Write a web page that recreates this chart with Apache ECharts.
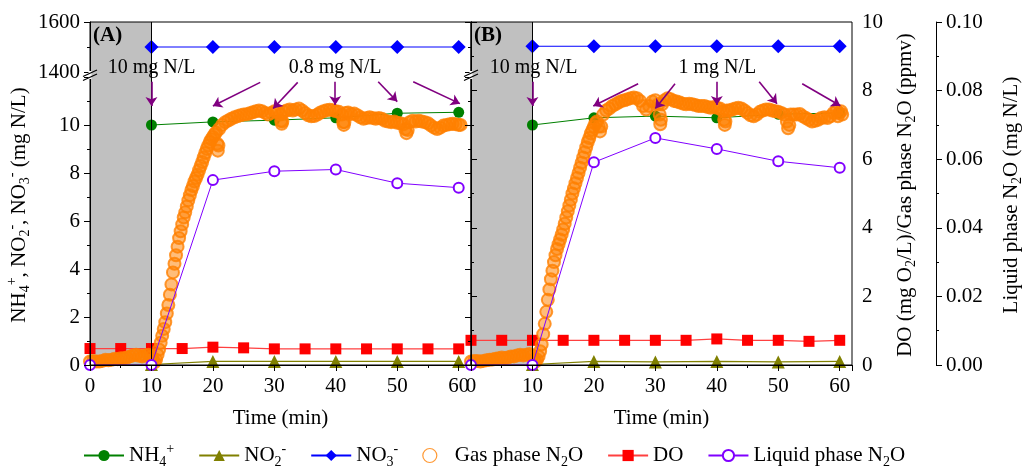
<!DOCTYPE html>
<html>
<head>
<meta charset="utf-8">
<script src="https://cdn.jsdelivr.net/npm/echarts@6/dist/echarts.min.js"></script>
<style>
  html, body { margin: 0; padding: 0; background: #fff; }
  #main { width: 1022px; height: 466px; }
</style>
</head>
<body>
<div id="main"></div>
<script>
// 数据：估计值
const timeNH = [10, 20, 30, 40, 50, 60];
const nh4A = [10.0, 10.13, 10.2, 10.3, 10.49, 10.53];
const nh4B = [10.0, 10.3, 10.37, 10.3, 10.45, 10.5];
const no2A = [0.02, 0.15, 0.15, 0.15, 0.15, 0.15];
const no2B = [0.02, 0.15, 0.13, 0.15, 0.13, 0.15];
const no3A = [1500, 1500, 1500, 1500, 1500, 1500];
const no3B = [1503, 1503, 1503, 1503, 1503, 1503];

const timeDO = [0, 5, 10, 15, 20, 25, 30, 35, 40, 45, 50, 55, 60];
const doA = [0.48, 0.48, 0.48, 0.48, 0.52, 0.5, 0.47, 0.47, 0.47, 0.47, 0.47, 0.47, 0.47];
const doB = [0.72, 0.72, 0.72, 0.72, 0.72, 0.72, 0.72, 0.72, 0.76, 0.72, 0.72, 0.69, 0.72];

const timeLiq = [0, 10, 20, 30, 40, 50, 60];
const liqA = [0, 0, 0.0539, 0.0565, 0.057, 0.053, 0.0517];
const liqB = [0, 0, 0.0591, 0.0662, 0.063, 0.0594, 0.0575];

// 气相 N2O [时间, ppmv]
const gasA = [
  [0, 0.1], [0.5, 0.12], [1, 0.1], [1.5, 0.1], [2, 0.12], [2.5, 0.15], [3, 0.14], [3.5, 0.15], [4, 0.18], [4.5, 0.17],
  [5, 0.2], [5.5, 0.2], [6, 0.22], [6.5, 0.25], [7, 0.28], [7.5, 0.3], [8, 0.27], [8.5, 0.25], [9, 0.28], [9.5, 0.3], [10, 0.25],
  [10.25, 0.15], [10.5, 0.08], [10.75, 0.15], [11, 0.3], [11.25, 0.45], [11.5, 0.65], [11.75, 0.85], [12, 1.05], [12.25, 1.25],
  [12.5, 1.5], [12.75, 1.75], [13, 2.05], [13.25, 2.35], [13.5, 2.7], [13.75, 2.95], [14, 3.2], [14.25, 3.45], [14.5, 3.7],
  [14.75, 3.9], [15, 4.1], [15.25, 4.3], [15.5, 4.45], [15.75, 4.62], [16, 4.8], [16.25, 4.95], [16.5, 5.1], [16.75, 5.22],
  [17, 5.35], [17.25, 5.45], [17.5, 5.55], [17.75, 5.68], [18, 5.8], [18.25, 5.92], [18.5, 6.05], [18.75, 6.18], [19, 6.3],
  [19.25, 6.4], [19.5, 6.5], [19.75, 6.58], [20, 6.65], [20.25, 6.72], [20.5, 6.78], [20.7, 6.45], [20.8, 6.25], [20.9, 6.4],
  [21, 6.88], [21.5, 7.0], [22, 7.08], [22.5, 7.13], [23, 7.18], [23.5, 7.22], [24, 7.25], [24.5, 7.28], [25, 7.3], [25.5, 7.31],
  [26, 7.34], [26.5, 7.37], [27, 7.4], [27.5, 7.42], [28, 7.4], [28.5, 7.35], [29, 7.3], [29.5, 7.35], [30, 7.4], [30.5, 7.4],
  [31, 7.3], [31.1, 7.12], [31.2, 7.03], [31.3, 7.1], [31.5, 7.38], [32, 7.42], [32.5, 7.45], [33, 7.42], [33.5, 7.45],
  [34, 7.48], [34.5, 7.42], [35, 7.35], [35.5, 7.28], [36, 7.25], [36.5, 7.26], [37, 7.3], [37.5, 7.36], [38, 7.4], [38.5, 7.43],
  [39, 7.44], [39.5, 7.43], [40, 7.4], [40.5, 7.38], [41, 7.3], [41.2, 7.08], [41.3, 7.0], [41.4, 7.08], [41.6, 7.35], [42, 7.36],
  [42.5, 7.32], [43, 7.33], [43.5, 7.28], [44, 7.22], [44.5, 7.18], [45, 7.2], [45.5, 7.22], [46, 7.2], [46.5, 7.18], [47, 7.2],
  [47.5, 7.18], [48, 7.12], [48.5, 7.1], [49, 7.08], [49.5, 7.1], [50, 7.06], [50.5, 7.05], [51, 7.02], [51.3, 6.88], [51.5, 6.76],
  [51.7, 6.85], [52, 7.08], [52.5, 7.12], [53, 7.1], [53.5, 7.12], [54, 7.1], [54.5, 7.08], [55, 7.05], [55.5, 6.98], [56, 6.92],
  [56.5, 6.88], [57, 6.92], [57.5, 6.98], [58, 7.0], [58.5, 7.02], [59, 7.03], [59.5, 7.02], [60, 7.0], [60.3, 7.0]
];
const gasB = [
  [0, 0.1], [0.5, 0.12], [1, 0.12], [1.5, 0.1], [2, 0.12], [2.5, 0.14], [3, 0.15], [3.5, 0.16], [4, 0.18], [4.5, 0.2],
  [5, 0.22], [5.5, 0.2], [6, 0.22], [6.5, 0.25], [7, 0.25], [7.5, 0.28], [8, 0.3], [8.5, 0.28], [9, 0.3], [9.5, 0.32], [10, 0.28],
  [10.25, 0.15], [10.5, 0.1], [10.75, 0.15], [11, 0.25], [11.25, 0.4], [11.5, 0.6], [11.75, 0.9], [12, 1.2], [12.25, 1.55],
  [12.5, 1.9], [12.75, 2.2], [13, 2.5], [13.25, 2.75], [13.5, 3.0], [13.75, 3.2], [14, 3.38], [14.25, 3.52], [14.5, 3.66],
  [14.75, 3.8], [15, 3.95], [15.25, 4.12], [15.5, 4.3], [15.75, 4.48], [16, 4.65], [16.25, 4.82], [16.5, 5.0], [16.75, 5.15],
  [17, 5.3], [17.25, 5.45], [17.5, 5.6], [17.75, 5.75], [18, 5.9], [18.25, 6.05], [18.5, 6.2], [18.75, 6.35], [19, 6.5],
  [19.25, 6.62], [19.5, 6.75], [19.75, 6.85], [20, 6.95], [20.25, 7.05], [20.5, 7.1], [20.8, 6.95], [21, 6.81], [21.2, 6.95],
  [21.5, 7.3], [22, 7.42], [22.5, 7.48], [23, 7.55], [23.5, 7.6], [24, 7.65], [24.5, 7.7], [25, 7.72], [25.5, 7.75], [26, 7.78],
  [26.5, 7.8], [27, 7.78], [27.5, 7.7], [28, 7.55], [28.5, 7.45], [29, 7.55], [29.5, 7.68], [30, 7.72], [30.5, 7.6], [30.7, 7.3],
  [30.8, 7.02], [30.9, 7.15], [31.1, 7.6], [31.5, 7.72], [32, 7.78], [32.5, 7.75], [33, 7.7], [33.5, 7.68], [34, 7.65], [34.5, 7.62],
  [35, 7.6], [35.5, 7.62], [36, 7.6], [36.5, 7.58], [37, 7.55], [37.5, 7.55], [38, 7.55], [38.5, 7.52], [39, 7.5], [39.5, 7.52],
  [40, 7.5], [40.5, 7.48], [41, 7.4], [41.2, 7.15], [41.3, 7.0], [41.4, 7.1], [41.6, 7.42], [42, 7.42], [42.5, 7.45], [43, 7.48],
  [43.5, 7.5], [44, 7.48], [44.5, 7.42], [45, 7.35], [45.5, 7.28], [46, 7.25], [46.5, 7.3], [47, 7.38], [47.5, 7.42], [48, 7.45],
  [48.5, 7.45], [49, 7.42], [49.5, 7.4], [50, 7.38], [50.5, 7.35], [51, 7.3], [51.4, 7.1], [51.6, 6.9], [51.8, 7.0], [52, 7.3],
  [52.5, 7.3], [53, 7.3], [53.5, 7.32], [54, 7.25], [54.5, 7.2], [55, 7.15], [55.5, 7.1], [56, 7.12], [56.5, 7.15], [57, 7.2],
  [57.5, 7.22], [58, 7.2], [58.5, 7.25], [59, 7.35], [59.5, 7.42], [59.7, 7.25], [59.9, 7.35], [60.2, 7.4], [60.4, 7.3]
];

// 箭头 [起点t, 起点v, 终点t, 终点v]（右轴 0-10 刻度）
const arrowsA = [[10.0, 8.26, 10.0, 7.55], [27.7, 8.24, 20.0, 7.55], [33.8, 8.24, 29.8, 7.48], [39.9, 8.26, 39.9, 7.58], [46.9, 8.26, 50.0, 7.68], [52.6, 8.26, 60.2, 7.62]];
const arrowsB = [[10.0, 8.26, 10.0, 7.55], [27.2, 8.2, 19.9, 7.55], [33.2, 8.2, 30.0, 7.48], [40.0, 8.26, 40.0, 7.58], [46.9, 8.26, 49.8, 7.62], [53.9, 8.2, 60.1, 7.56]];
const notesA = [['10 mg N/L', 10.04, 8.67], ['0.8 mg N/L', 39.9, 8.67]];
const notesB = [['10 mg N/L', 10.2, 8.67], ['1 mg N/L', 40.1, 8.67]];
const shade = [0, 10];

const FONT = "'Liberation Serif', 'Times New Roman', serif";
const FS = 21;
const txt = { fontFamily: FONT, fontSize: FS, color: '#000' };
const rich = {
  n: { fontFamily: FONT, fontSize: FS, lineHeight: 27, color: '#000' },
  sb: { fontFamily: FONT, fontSize: 14, lineHeight: 14, verticalAlign: 'bottom', color: '#000' },
  sp: { fontFamily: FONT, fontSize: 14, lineHeight: 14, verticalAlign: 'top', color: '#000' }
};
const legendText = {
  'NH4+': '{n|NH}{sb|4}{sp|+}',
  'NO2-': '{n|NO}{sb|2}{sp|-}',
  'NO3-': '{n|NO}{sb|3}{sp|-}',
  'Gas phase N2O': '{n|Gas phase N}{sb|2}{n|O}',
  'DO': '{n|DO}',
  'Liquid phase N2O': '{n|Liquid phase N}{sb|2}{n|O}'
};

const pairs = (xs, ys) => xs.map((x, i) => [x, ys[i]]);
const PANEL_X = [90, 471];
const PANEL_W = 381;

const grids = [], xAxes = [], yAxes = [], series = [];
const black = { color: '#000', width: 1 };

PANEL_X.forEach((left, p) => {
  grids.push({ left, top: 22, width: PANEL_W, height: 343, show: true, borderColor: '#000', borderWidth: 1, z: 10 });
  grids.push({ left, top: 77, width: PANEL_W, height: 288 });
  grids.push({ left, top: 22, width: PANEL_W, height: 50 });

  xAxes.push({
    gridIndex: 3 * p, type: 'value', min: 0, max: 62, interval: 10, z: 10,
    axisLine: { show: true, lineStyle: black },
    axisTick: { show: true, length: 6, lineStyle: black },
    minorTick: { show: true, splitNumber: 2, length: 3, lineStyle: black },
    axisLabel: { ...txt, margin: 11, formatter: v => (v % 10 === 0 ? String(v) : '') },
    splitLine: { show: false },
    name: 'Time (min)', nameLocation: 'middle', nameGap: 43, nameTextStyle: txt
  });
  xAxes.push({ gridIndex: 3 * p + 1, type: 'value', min: 0, max: 62, show: false });
  xAxes.push({ gridIndex: 3 * p + 2, type: 'value', min: 0, max: 62, show: false });

  const showR = p === 1;
  yAxes.push({
    gridIndex: 3 * p, type: 'value', position: 'right', min: 0, max: 10, interval: 2, show: showR, z: 10,
    axisLine: { show: true, lineStyle: black },
    axisTick: { show: true, length: 6, lineStyle: black },
    minorTick: { show: true, splitNumber: 2, length: 3, lineStyle: black },
    axisLabel: { ...txt, margin: 10 },
    splitLine: { show: false }
  });
  yAxes.push({
    gridIndex: 3 * p, type: 'value', position: 'right', offset: 84, min: 0, max: 0.1, interval: 0.02, show: showR, z: 10,
    axisLine: { show: true, lineStyle: black },
    axisTick: { show: true, length: 6, lineStyle: black },
    minorTick: { show: true, splitNumber: 2, length: 3, lineStyle: black },
    axisLabel: { ...txt, margin: 10, formatter: v => v.toFixed(2) },
    splitLine: { show: false }
  });
  yAxes.push({
    gridIndex: 3 * p + 1, type: 'value', position: 'left', min: 0, max: 12, interval: 2, z: 10,
    axisLine: { show: true, lineStyle: black },
    axisTick: { show: true, length: 6, lineStyle: black },
    minorTick: { show: true, splitNumber: 2, length: 3, lineStyle: black },
    axisLabel: { ...txt, show: p === 0, margin: 10, formatter: v => (v <= 10 ? String(v) : '') },
    splitLine: { show: false }
  });
  yAxes.push({
    gridIndex: 3 * p + 2, type: 'value', position: 'left', min: 1400, max: 1600, interval: 200, z: 10,
    axisLine: { show: true, lineStyle: black },
    axisTick: { show: true, length: 6, lineStyle: black },
    minorTick: { show: true, splitNumber: 2, length: 3, lineStyle: black },
    axisLabel: { ...txt, show: p === 0, margin: 10, formatter: v => String(v) },
    splitLine: { show: false }
  });

  const xF = 3 * p, yDO = 4 * p, yLiq = 4 * p + 1, yLow = 4 * p + 2, yUp = 4 * p + 3;
  const arrows = p === 0 ? arrowsA : arrowsB;
  const notes = p === 0 ? notesA : notesB;

  series.push({
    name: 'NH4+', type: 'line', xAxisIndex: xF + 1, yAxisIndex: yLow,
    data: pairs(timeNH, p === 0 ? nh4A : nh4B),
    symbol: 'circle', symbolSize: 11, itemStyle: { color: '#008000' },
    lineStyle: { color: '#008000', width: 1 }, z: 2
  });
  series.push({
    name: 'NO2-', type: 'line', xAxisIndex: xF + 1, yAxisIndex: yLow,
    data: pairs(timeNH, p === 0 ? no2A : no2B),
    symbol: 'triangle', symbolSize: 13, itemStyle: { color: '#808000' },
    lineStyle: { color: '#808000', width: 1.2 }, z: 2
  });
  series.push({
    name: 'NO3-', type: 'line', xAxisIndex: xF + 2, yAxisIndex: yUp,
    data: pairs(timeNH, p === 0 ? no3A : no3B),
    symbol: 'diamond', symbolSize: 14, itemStyle: { color: '#0000ff' },
    lineStyle: { color: '#0000ff', width: 1 }, z: 2
  });
  series.push({
    name: 'DO', type: 'line', xAxisIndex: xF, yAxisIndex: yDO,
    data: pairs(timeDO, p === 0 ? doA : doB),
    symbol: 'rect', symbolSize: 11, itemStyle: { color: '#ff0000' },
    lineStyle: { color: '#ff4040', width: 1.2 }, z: 3,
    markArea: { silent: true, itemStyle: { color: '#c0c0c0' }, data: [[{ xAxis: shade[0] }, { xAxis: shade[1] }]] },
    markLine: { silent: true, symbol: 'none', label: { show: false }, lineStyle: { color: '#000', width: 1, type: 'solid' }, data: [{ xAxis: shade[1] }] }
  });
  series.push({
    name: 'Gas phase N2O', type: 'scatter', xAxisIndex: xF, yAxisIndex: yDO,
    data: p === 0 ? gasA : gasB,
    symbol: 'circle', symbolSize: 12,
    itemStyle: { color: 'rgba(255,128,0,0.65)', borderColor: '#ff8000', borderWidth: 2 }, z: 4,
    markLine: {
      silent: true, symbol: ['none', 'arrow'], symbolSize: 9, label: { show: false },
      lineStyle: { color: '#800080', width: 1.6, type: 'solid' },
      data: arrows.map(a => [{ coord: [a[0], a[1]] }, { coord: [a[2], a[3]] }])
    },
    markPoint: {
      silent: true, symbol: 'rect', symbolSize: 1, itemStyle: { color: 'rgba(0,0,0,0)' },
      label: { show: true, position: 'inside', formatter: '{b}', fontFamily: FONT, fontSize: 20, color: '#000' },
      data: notes.map(n => ({ name: n[0], coord: [n[1], n[2]] }))
    }
  });
  series.push({
    name: 'Liquid phase N2O', type: 'line', xAxisIndex: xF, yAxisIndex: yLiq,
    data: pairs(timeLiq, p === 0 ? liqA : liqB),
    symbol: 'emptyCircle', symbolSize: 10, itemStyle: { color: '#8000ff', borderWidth: 1.3 },
    lineStyle: { color: '#8000ff', width: 1 }, z: 5
  });
});

// 断轴标记
const breakMarks = [];
PANEL_X.forEach(x => {
  breakMarks.push({ type: 'rect', shape: { x: x - 1.5, y: 71, width: 3, height: 8 }, style: { fill: '#fff' }, z: 100 });
  breakMarks.push({ type: 'line', shape: { x1: x - 7, y1: 76.5, x2: x + 7, y2: 70 }, style: { stroke: '#000', lineWidth: 1.2 }, z: 101 });
  breakMarks.push({ type: 'line', shape: { x1: x - 7, y1: 80.5, x2: x + 7, y2: 74 }, style: { stroke: '#000', lineWidth: 1.2 }, z: 101 });
});

const axisNames = [
  ['{n|NH}{sb|4}{sp|+}{n|, NO}{sb|2}{sp|-}{n|, NO}{sb|3}{sp|-}{n| (mg N/L)}', 19, 205],
  ['{n|DO (mg O}{sb|2}{n|/L)/Gas phase N}{sb|2}{n|O (ppmv)}', 905, 195],
  ['{n|Liquid phase N}{sb|2}{n|O (mg N/L)}', 1011, 195]
].map(a => ({
  type: 'text', x: a[1], y: a[2], rotation: Math.PI / 2, z: 100,
  style: { text: a[0], rich, fontFamily: FONT, fontSize: FS, fill: '#000', align: 'center', verticalAlign: 'middle' }
}));

const chart = echarts.init(document.getElementById('main'));
chart.setOption({
  animation: false,
  backgroundColor: '#fff',
  title: [
    { text: '(A)', left: 93, top: 25, padding: 0, textStyle: { fontFamily: FONT, fontSize: 21, fontWeight: 'bold', color: '#000' } },
    { text: '(B)', left: 474, top: 25, padding: 0, textStyle: { fontFamily: FONT, fontSize: 21, fontWeight: 'bold', color: '#000' } }
  ],
  legend: {
    top: 437, left: 78, itemWidth: 40, itemHeight: 14, itemGap: 24,
    textStyle: { ...txt, rich },
    formatter: name => legendText[name],
    data: ['NH4+', 'NO2-', 'NO3-',
      { name: 'Gas phase N2O', icon: 'circle', itemStyle: { color: '#fff', borderColor: '#ff8000', borderWidth: 1.2 } },
      'DO', 'Liquid phase N2O']
  },
  grid: grids,
  xAxis: xAxes,
  yAxis: yAxes,
  series,
  graphic: breakMarks.concat(axisNames)
});
window.addEventListener('resize', () => chart.resize());
</script>
</body>
</html>
